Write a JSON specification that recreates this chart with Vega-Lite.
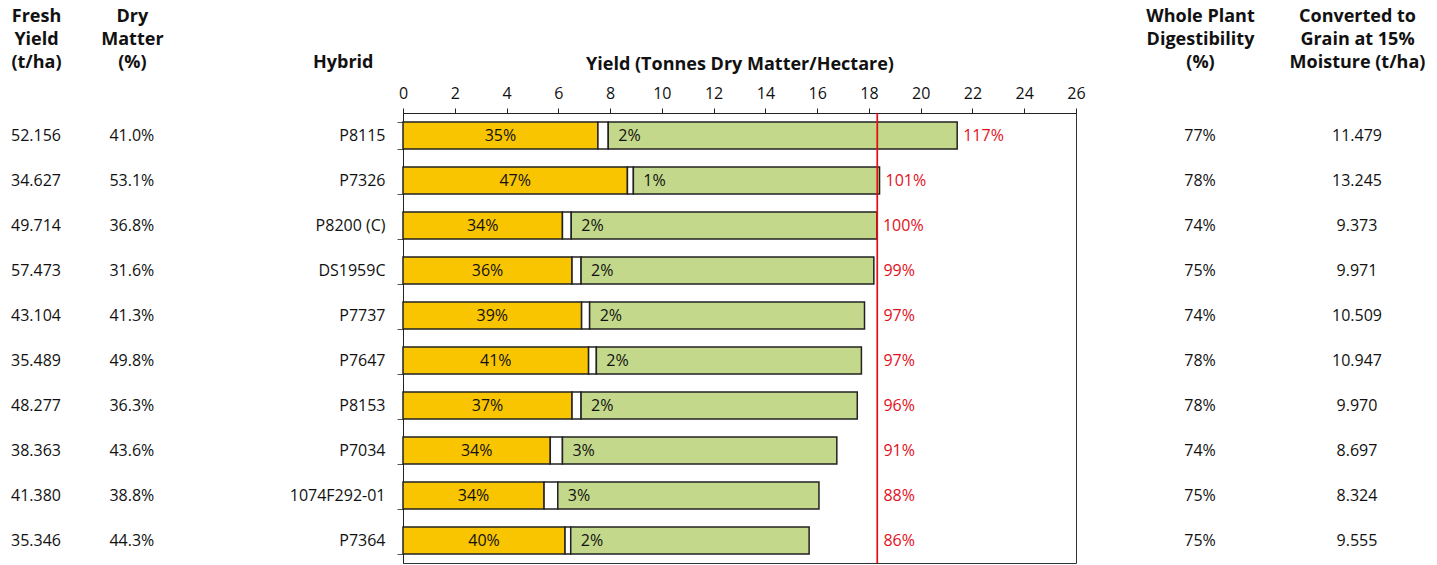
{
  "$schema": "https://vega.github.io/schema/vega-lite/v6.json",
  "padding": {"left": 0, "top": 7, "right": 0, "bottom": 0},
  "bounds": "flush",
  "spacing": 0,
  "config": {
    "font": "Open Sans",
    "view": {"stroke": null},
    "text": {"font": "Open Sans", "fontSize": 16, "color": "#111"},
    "axis": {"labelFont": "Open Sans", "titleFont": "Open Sans", "labelColor": "#111", "titleColor": "#111", "grid": false}
  },
  "datasets": {
    "rows": [
      {"hybrid": "P8115", "fresh": 52.156, "dm": 0.410, "digest": 0.77, "grain": 11.479, "seg1End": 7.53, "seg2End": 7.93, "total": 21.41, "p1": 0.35, "p2": 0.02, "rel": 1.17},
      {"hybrid": "P7326", "fresh": 34.627, "dm": 0.531, "digest": 0.78, "grain": 13.245, "seg1End": 8.67, "seg2End": 8.90, "total": 18.41, "p1": 0.47, "p2": 0.01, "rel": 1.01},
      {"hybrid": "P8200 (C)", "fresh": 49.714, "dm": 0.368, "digest": 0.74, "grain": 9.373, "seg1End": 6.16, "seg2End": 6.50, "total": 18.31, "p1": 0.34, "p2": 0.02, "rel": 1.00},
      {"hybrid": "DS1959C", "fresh": 57.473, "dm": 0.316, "digest": 0.75, "grain": 9.971, "seg1End": 6.53, "seg2End": 6.88, "total": 18.19, "p1": 0.36, "p2": 0.02, "rel": 0.99},
      {"hybrid": "P7737", "fresh": 43.104, "dm": 0.413, "digest": 0.74, "grain": 10.509, "seg1End": 6.90, "seg2End": 7.21, "total": 17.83, "p1": 0.39, "p2": 0.02, "rel": 0.97},
      {"hybrid": "P7647", "fresh": 35.489, "dm": 0.498, "digest": 0.78, "grain": 10.947, "seg1End": 7.17, "seg2End": 7.47, "total": 17.71, "p1": 0.41, "p2": 0.02, "rel": 0.97},
      {"hybrid": "P8153", "fresh": 48.277, "dm": 0.363, "digest": 0.78, "grain": 9.970, "seg1End": 6.53, "seg2End": 6.88, "total": 17.55, "p1": 0.37, "p2": 0.02, "rel": 0.96},
      {"hybrid": "P7034", "fresh": 38.363, "dm": 0.436, "digest": 0.74, "grain": 8.697, "seg1End": 5.69, "seg2End": 6.16, "total": 16.76, "p1": 0.34, "p2": 0.03, "rel": 0.91},
      {"hybrid": "1074F292-01", "fresh": 41.380, "dm": 0.388, "digest": 0.75, "grain": 8.324, "seg1End": 5.45, "seg2End": 5.98, "total": 16.07, "p1": 0.34, "p2": 0.03, "rel": 0.88},
      {"hybrid": "P7364", "fresh": 35.346, "dm": 0.443, "digest": 0.75, "grain": 9.555, "seg1End": 6.26, "seg2End": 6.48, "total": 15.69, "p1": 0.40, "p2": 0.02, "rel": 0.86}
    ]
  },
  "hconcat": [
    {
      "width": 72, "height": 450,
      "data": {"name": "rows"},
      "mark": {"type": "text", "fontSize": 16},
      "encoding": {
        "y": {"field": "hybrid", "type": "nominal", "sort": null, "scale": {"type": "band", "paddingInner": 0.4, "paddingOuter": 0.2}, "axis": null},
        "x": {"datum": "Fresh|Yield|(t/ha)", "type": "nominal", "scale": {"type": "point", "align": 0.5},
              "axis": {"orient": "top", "title": null, "domain": false, "ticks": false, "tickSize": 0, "labelExpr": "split(datum.label, '|')", "labelFontSize": 18, "labelFontWeight": "bold", "labelLineHeight": 23, "labelPadding": 92, "labelBaseline": "alphabetic", "labelAngle": 0, "labelLimit": 300}},
        "text": {"field": "fresh", "type": "quantitative", "format": ".3f"}
      }
    },
    {
      "width": 331, "height": 450,
      "data": {"name": "rows"},
      "mark": {"type": "text", "fontSize": 16},
      "encoding": {
        "y": {"field": "hybrid", "type": "nominal", "sort": null, "scale": {"type": "band", "paddingInner": 0.4, "paddingOuter": 0.2}, "axis": null},
        "x": {"datum": "Dry|Matter|(%)", "type": "nominal", "scale": {"type": "point", "align": 0.181},
              "axis": {"orient": "top", "title": null, "domain": false, "ticks": false, "tickSize": 0, "labelExpr": "split(datum.label, '|')", "labelFontSize": 18, "labelFontWeight": "bold", "labelLineHeight": 23, "labelPadding": 92, "labelBaseline": "alphabetic", "labelAngle": 0, "labelLimit": 300}},
        "text": {"field": "dm", "type": "quantitative", "format": ".1%"}
      }
    },
    {
      "width": 673, "height": 450,
      "view": {"stroke": "#333", "strokeWidth": 1},
      "data": {"name": "rows"},
      "transform": [{"calculate": "datum.seg1End / 2", "as": "seg1Mid"}],
      "layer": [
        {
          "mark": {"type": "bar", "fill": "#F9C500", "stroke": "#222", "strokeWidth": 1.5},
          "encoding": {
            "y": {"field": "hybrid", "type": "nominal", "sort": null, "scale": {"type": "band", "paddingInner": 0.4, "paddingOuter": 0.2},
                  "axis": {"title": "Hybrid", "titleAngle": 0, "titleAlign": "right", "titleBaseline": "alphabetic", "titleX": -30, "titleY": -46, "titleFontSize": 18, "titleFontWeight": "bold", "labelFontSize": 16, "labelPadding": 12, "tickSize": 6, "tickBand": "extent", "tickColor": "#555", "domainColor": "#222"}},
            "x": {"field": "seg1End", "type": "quantitative", "scale": {"domain": [0, 26], "nice": false},
                  "axis": {"orient": "top", "values": [0, 2, 4, 6, 8, 10, 12, 14, 16, 18, 20, 22, 24, 26], "title": "Yield (Tonnes Dry Matter/Hectare)", "titleFontSize": 18, "titleFontWeight": "bold", "titlePadding": 12, "labelFontSize": 16, "tickSize": 5, "labelPadding": 7, "labelFlush": false, "domainColor": "#222", "tickColor": "#222"}}
          }
        },
        {
          "mark": {"type": "bar", "fill": "#ffffff", "stroke": "#222", "strokeWidth": 1.5},
          "encoding": {"y": {"field": "hybrid", "type": "nominal", "sort": null}, "x": {"field": "seg1End", "type": "quantitative"}, "x2": {"field": "seg2End"}}
        },
        {
          "mark": {"type": "bar", "fill": "#C3D88A", "stroke": "#222", "strokeWidth": 1.5},
          "encoding": {"y": {"field": "hybrid", "type": "nominal", "sort": null}, "x": {"field": "seg2End", "type": "quantitative"}, "x2": {"field": "total"}}
        },
        {
          "mark": {"type": "rule", "color": "#E3101C", "strokeWidth": 1.1},
          "encoding": {"x": {"datum": 18.33}}
        },
        {
          "mark": {"type": "text", "fontSize": 16, "align": "center"},
          "encoding": {"y": {"field": "hybrid", "type": "nominal", "sort": null}, "x": {"field": "seg1Mid", "type": "quantitative"}, "text": {"field": "p1", "type": "quantitative", "format": ".0%"}}
        },
        {
          "mark": {"type": "text", "fontSize": 16, "align": "left", "dx": 10},
          "encoding": {"y": {"field": "hybrid", "type": "nominal", "sort": null}, "x": {"field": "seg2End", "type": "quantitative"}, "text": {"field": "p2", "type": "quantitative", "format": ".0%"}}
        },
        {
          "transform": [{"filter": "datum.total >= 18.3"}],
          "mark": {"type": "text", "fontSize": 16, "align": "left", "dx": 6, "color": "#E3101C"},
          "encoding": {"y": {"field": "hybrid", "type": "nominal", "sort": null}, "x": {"field": "total", "type": "quantitative"}, "text": {"field": "rel", "type": "quantitative", "format": ".0%"}}
        },
        {
          "transform": [{"filter": "datum.total < 18.3"}],
          "mark": {"type": "text", "fontSize": 16, "align": "left", "dx": 6, "color": "#E3101C"},
          "encoding": {"y": {"field": "hybrid", "type": "nominal", "sort": null}, "x": {"datum": 18.33}, "text": {"field": "rel", "type": "quantitative", "format": ".0%"}}
        }
      ]
    },
    {
      "width": 248, "height": 450,
      "data": {"name": "rows"},
      "mark": {"type": "text", "fontSize": 16},
      "encoding": {
        "y": {"field": "hybrid", "type": "nominal", "sort": null, "scale": {"type": "band", "paddingInner": 0.4, "paddingOuter": 0.2}, "axis": null},
        "x": {"datum": "Whole Plant|Digestibility|(%)", "type": "nominal", "scale": {"type": "point", "align": 0.5},
              "axis": {"orient": "top", "title": null, "domain": false, "ticks": false, "tickSize": 0, "labelExpr": "split(datum.label, '|')", "labelFontSize": 18, "labelFontWeight": "bold", "labelLineHeight": 23, "labelPadding": 92, "labelBaseline": "alphabetic", "labelAngle": 0, "labelLimit": 300}},
        "text": {"field": "digest", "type": "quantitative", "format": ".0%"}
      }
    },
    {
      "width": 66, "height": 450,
      "data": {"name": "rows"},
      "mark": {"type": "text", "fontSize": 16},
      "encoding": {
        "y": {"field": "hybrid", "type": "nominal", "sort": null, "scale": {"type": "band", "paddingInner": 0.4, "paddingOuter": 0.2}, "axis": null},
        "x": {"datum": "Converted to|Grain at 15%|Moisture (t/ha)", "type": "nominal", "scale": {"type": "point", "align": 0.5},
              "axis": {"orient": "top", "title": null, "domain": false, "ticks": false, "tickSize": 0, "labelExpr": "split(datum.label, '|')", "labelFontSize": 18, "labelFontWeight": "bold", "labelLineHeight": 23, "labelPadding": 92, "labelBaseline": "alphabetic", "labelAngle": 0, "labelLimit": 300}},
        "text": {"field": "grain", "type": "quantitative", "format": ".3f"}
      }
    }
  ]
}
